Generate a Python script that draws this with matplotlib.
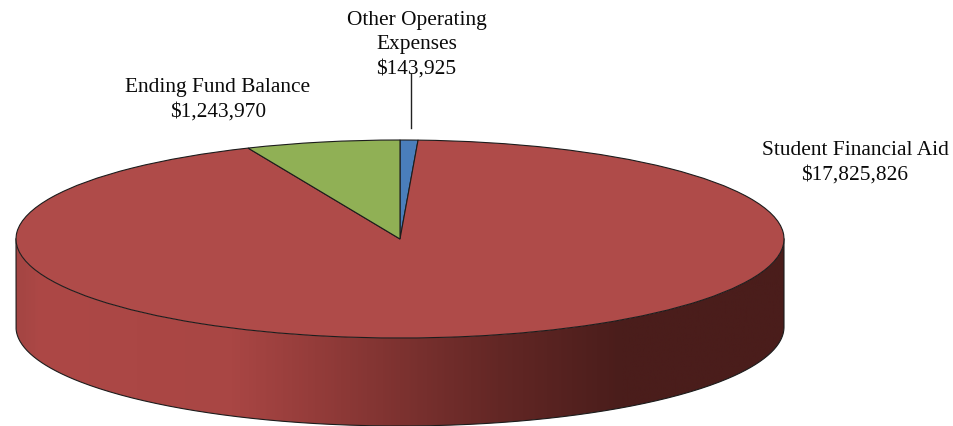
import matplotlib
matplotlib.use("Agg")
import matplotlib.pyplot as plt
import numpy as np
from matplotlib.colors import LinearSegmentedColormap
from matplotlib.patches import Polygon

# slices, clockwise from 12 o'clock
names = ['Other Operating\nExpenses', 'Student Financial Aid', 'Ending Fund Balance']
values = [143925, 17825826, 1243970]
amounts = ['$143,925', '$17,825,826', '$1,243,970']
colors = ['#4a7ebb', '#af4b49', '#90b055']

W, H = 954, 427
cx, cy = 400, 240  # pie centre in pixels
rx, ry = 384, 99
depth = 88 / ry

plt.rcParams['font.family'] = ['Liberation Serif', 'DejaVu Serif']

fig = plt.figure(figsize=(W / 100, H / 100), dpi=100)
ax = fig.add_axes([0, 0, 1, 1])

# top of the pie, squashed afterwards by the axis limits
wedges, _ = ax.pie(values, colors=colors, startangle=90, counterclock=False,
                   radius=1, wedgeprops={'edgecolor': '#1c1c1c', 'linewidth': 0.8, 'zorder': 3})
ax.set_aspect('auto')

# side wall with the horizontal shading
theta = np.linspace(np.pi, 2 * np.pi, 300)
xs = np.cos(theta)
ys = np.sin(theta)
wall = np.column_stack([np.r_[xs, xs[::-1]], np.r_[ys, ys[::-1] - depth]])
shade = LinearSegmentedColormap.from_list('shade', [
    (0.00, '#a44543'), (0.03, '#ad4846'), (0.28, '#a94644'), (0.39, '#943c3a'),
    (0.50, '#7d3230'), (0.63, '#632725'), (0.79, '#4a1d1b'), (1.00, '#4a1d1b')])
grad = ax.imshow(np.linspace(0, 1, 400).reshape(1, -1), cmap=shade, aspect='auto',
                 extent=(-1, 1, -depth - 1, 1), zorder=1)
poly = Polygon(wall, closed=True, transform=ax.transData, fc='none', ec='none')
ax.add_patch(poly)
grad.set_clip_path(poly)
ax.plot(np.r_[-1, -1, xs, 1, 1], np.r_[0, -depth, ys - depth, -depth, 0],
        color='#1c1c1c', lw=0.8, zorder=2)

ax.set_xlim(-cx / rx, (W - cx) / rx)
ax.set_ylim((cy - H) / ry, cy / ry)
ax.axis('off')


def px(x, y):
    return (x - cx) / rx, (cy - y) / ry


# labels, one text per line: x centre and first baseline in pixels
label_pos = [(416.5, 25), (855, 155), (218, 92)]
line_step = 24.2
for name, amount, (lx, ly) in zip(names, amounts, label_pos):
    for i, line in enumerate(name.split('\n') + [amount]):
        tx, ty = px(lx, ly + i * line_step)
        ax.text(tx, ty, line, ha='center', va='baseline', fontsize=15.4,
                color='#0a0a0a', zorder=5)

# leader line for the small slice
lx0, ly0 = px(411, 75)
lx1, ly1 = px(411, 129)
ax.plot([lx0, lx1], [ly0, ly1], color='#222222', lw=1.0, zorder=4)

fig.savefig('out.png', dpi=100)
